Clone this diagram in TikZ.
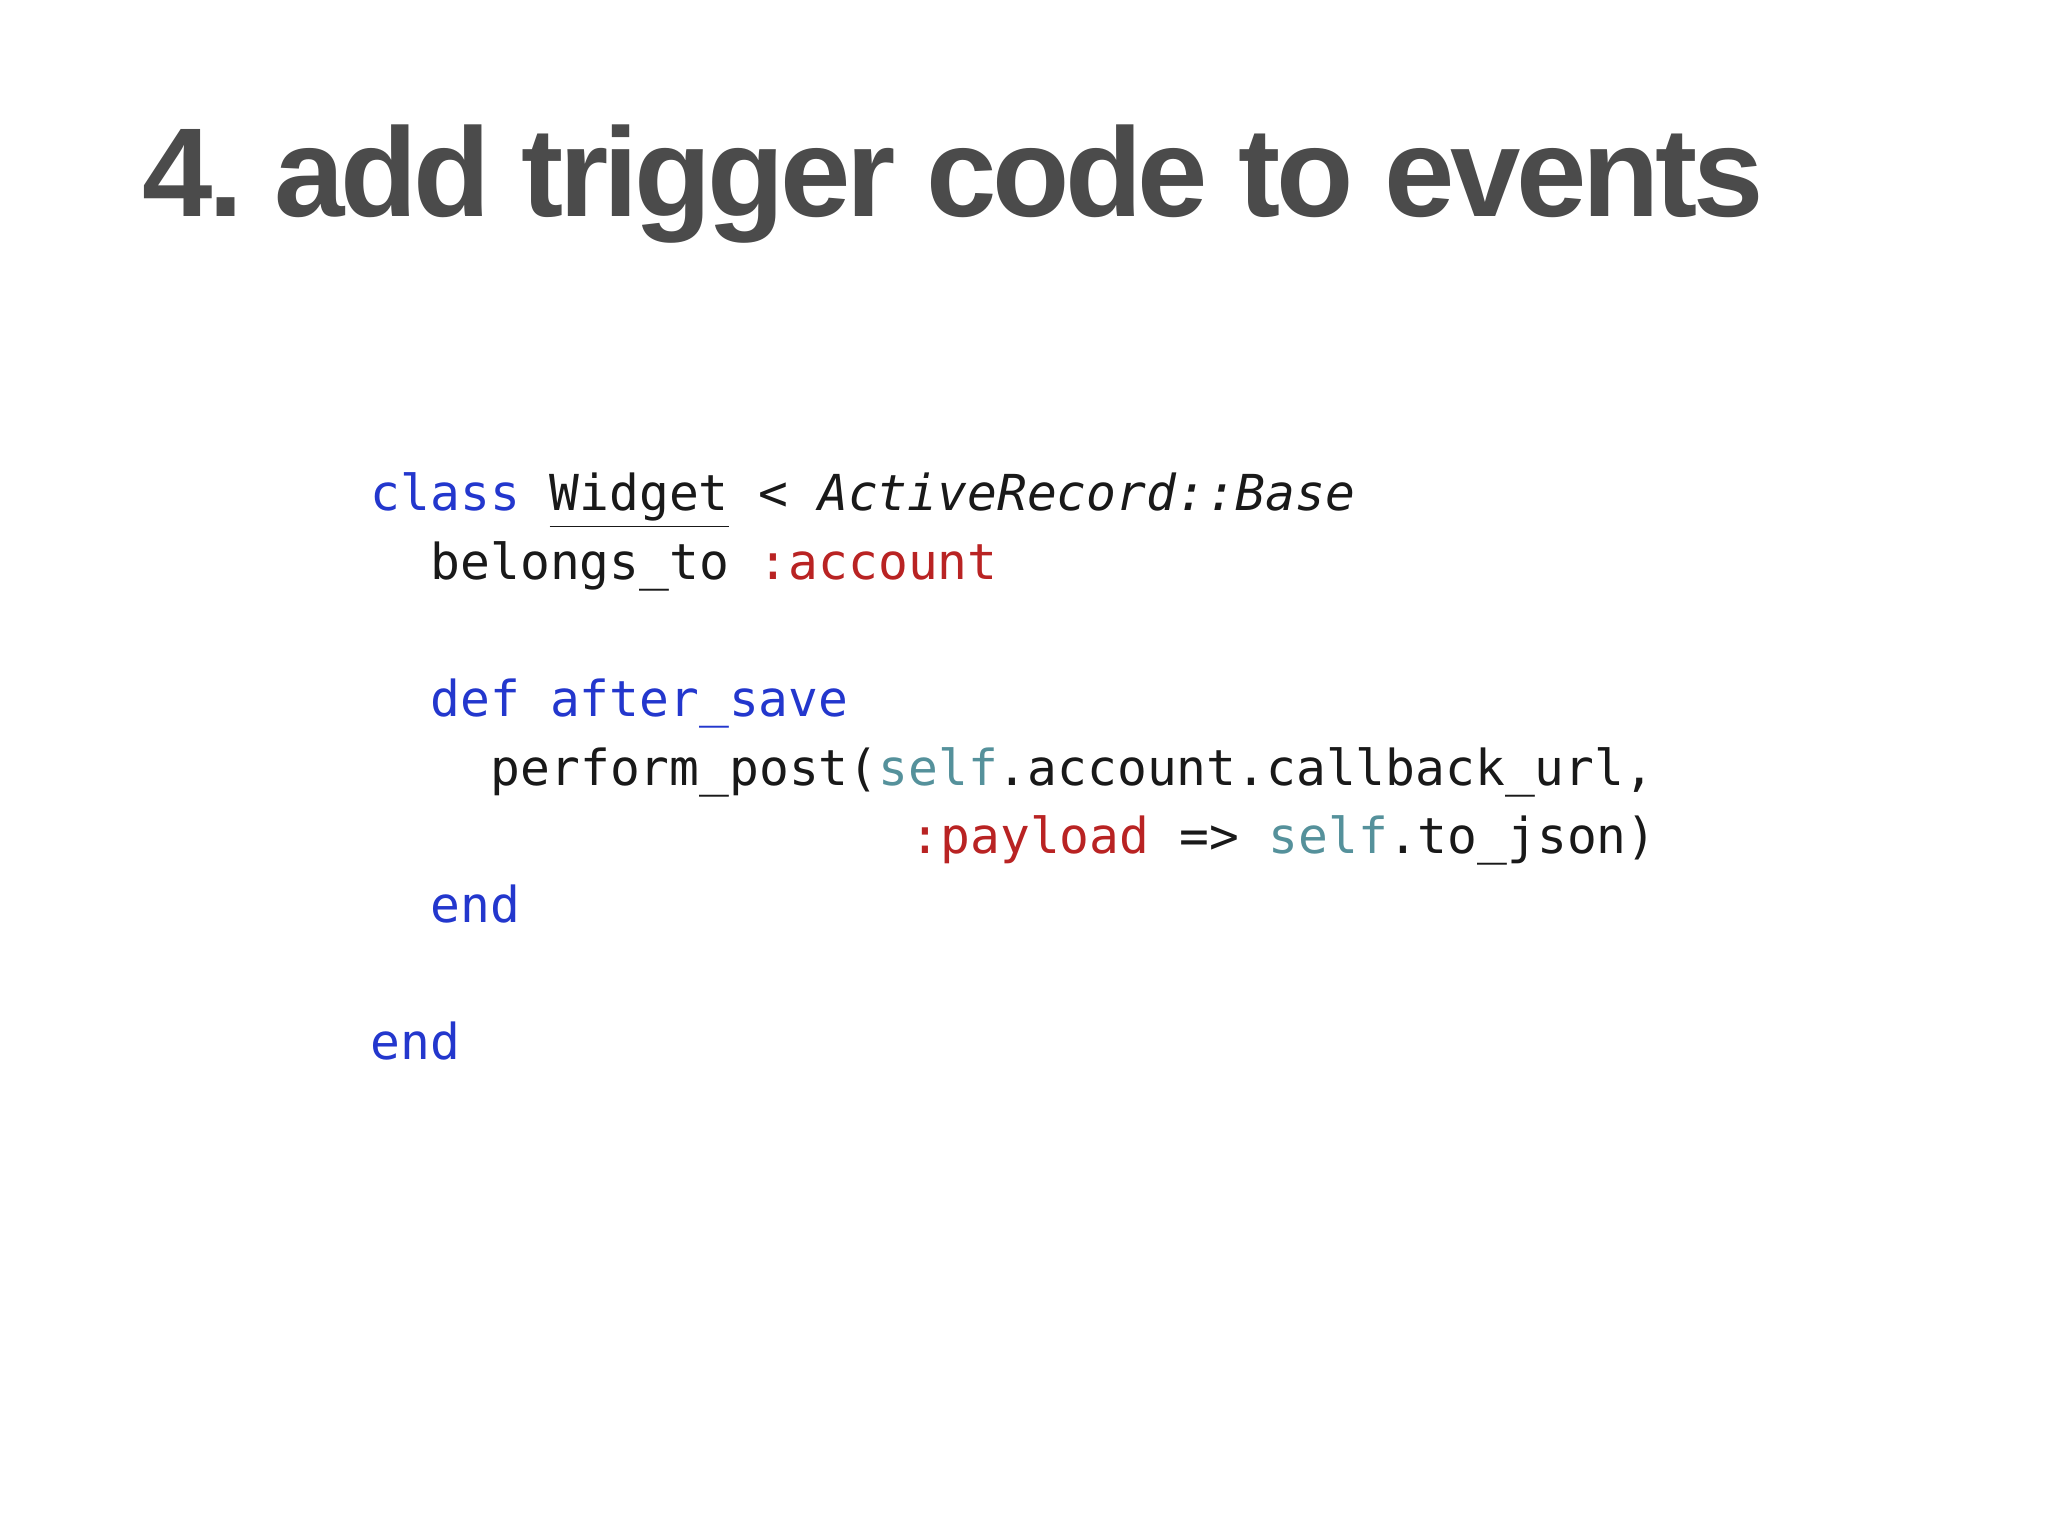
\documentclass[tikz,border=0pt]{standalone}
\usepackage{fontspec}
\setmainfont{Liberation Sans}
\newfontfamily\codefont{DejaVu Sans Mono}
\newfontfamily\titlefont[LetterSpace=-3.5]{Liberation Sans}
\usetikzlibrary{positioning}
\definecolor{titlegray}{RGB}{75,75,75}
\definecolor{kwblue}{RGB}{35,55,205}
\definecolor{symred}{RGB}{185,35,35}
\definecolor{selfteal}{RGB}{85,145,155}
\definecolor{codetext}{RGB}{25,25,25}
\tikzset{
  title/.style={anchor=base west,inner sep=0,text=titlegray,font=\titlefont\bfseries\fontsize{36}{40}\selectfont},
  code/.style={anchor=base west,inner sep=0,text=codetext,font=\codefont\fontsize{14.1}{16}\selectfont}
}
\newcommand{\kw}[1]{\textcolor{kwblue}{#1}}
\newcommand{\sym}[1]{\textcolor{symred}{#1}}
\newcommand{\slf}[1]{\textcolor{selfteal}{#1}}
\begin{document}
\begin{tikzpicture}
\useasboundingbox (0,0) rectangle (20.48,-15.36);
% title
\node[title] (head) at (1.42,-2.17) {4.\ add trigger code to events};
% code lines, one node per line, x by indent of 0.299cm per char
\node[code] (l1) at (3.70,-5.11) {\kw{class} \underline{Widget} < \textit{ActiveRecord::Base}};
\node[code] (l2) at (4.30,-5.795) {belongs\_to \sym{:account}};
\node[code] (l4) at (4.30,-7.165) {\kw{def after\_save}};
\node[code] (l5) at (4.90,-7.85) {perform\_post(\slf{self}.account.callback\_url,};
\node[code] (l6) at (9.10,-8.535) {\sym{:payload} => \slf{self}.to\_json)};
\node[code] (l7) at (4.30,-9.22) {\kw{end}};
\node[code] (l9) at (3.70,-10.59) {\kw{end}};
\end{tikzpicture}
\end{document}
